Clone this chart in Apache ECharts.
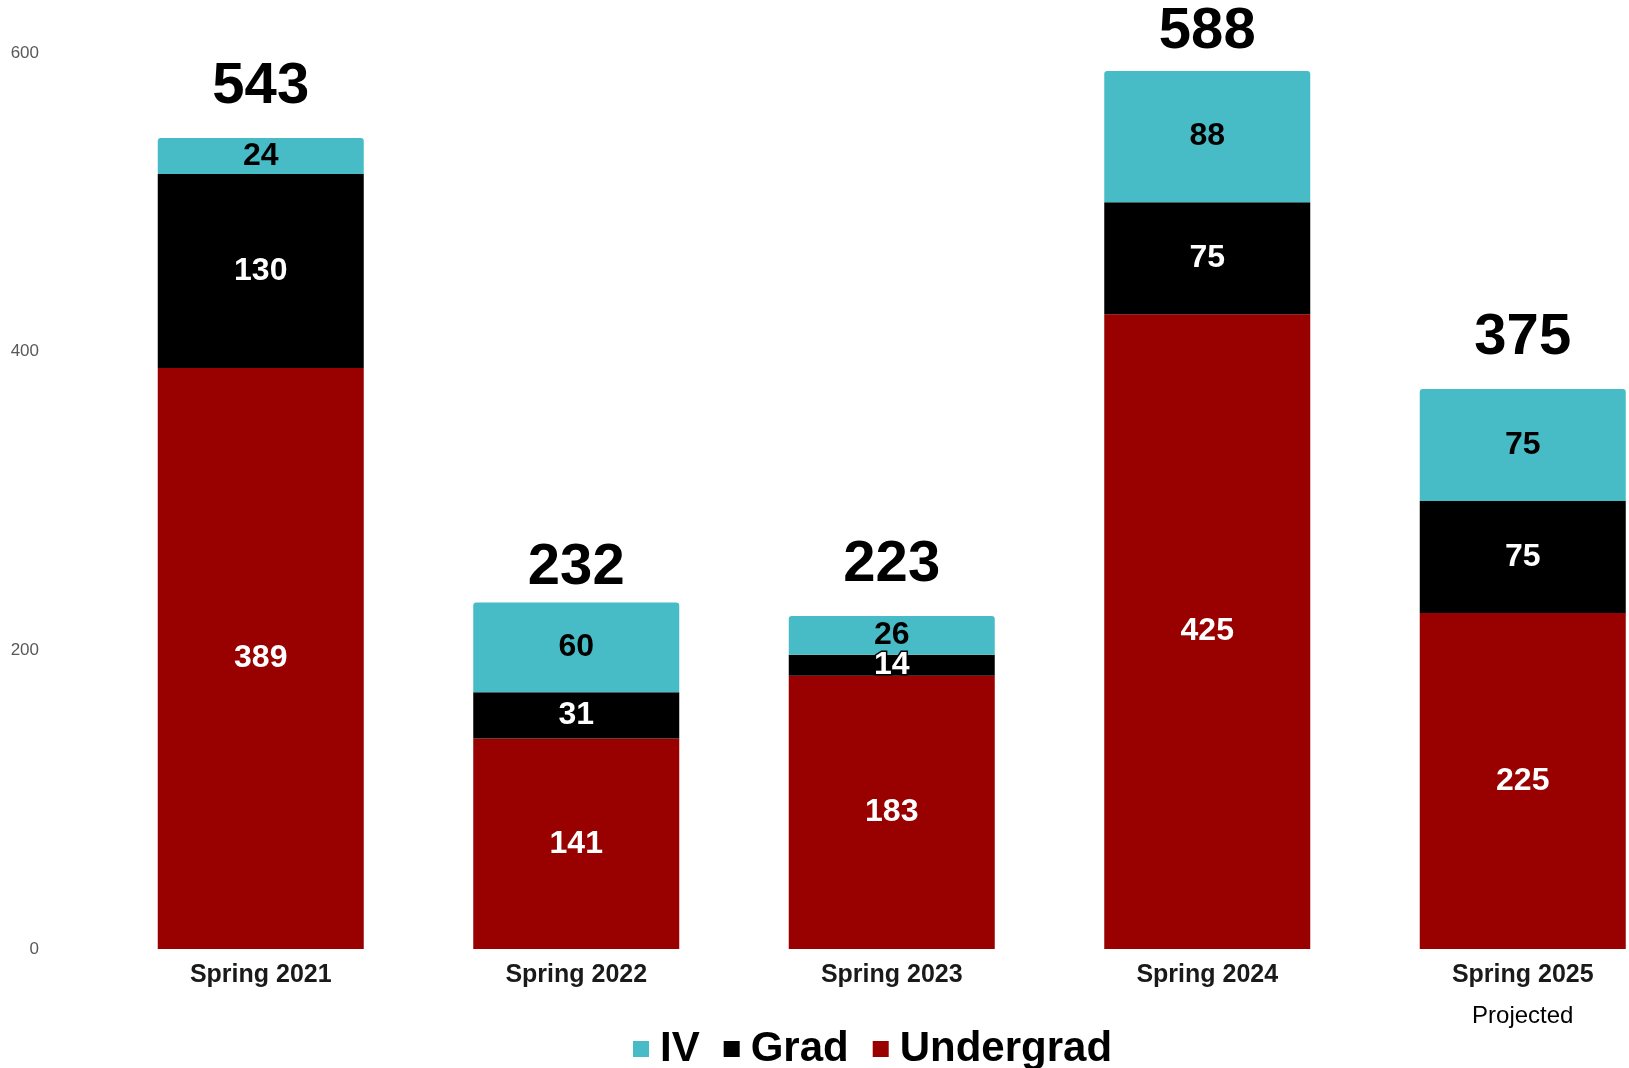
<!DOCTYPE html>
<html>
<head>
<meta charset="utf-8">
<script src="https://cdn.jsdelivr.net/npm/echarts@6/dist/echarts.min.js"></script>
<style>
html,body{margin:0;padding:0;background:#fff;}
#c{width:1629px;height:1068px;}
</style>
</head>
<body>
<div id="c"></div>
<script>
var categories = ['Spring 2021', 'Spring 2022', 'Spring 2023', 'Spring 2024', 'Spring 2025'];
var subLabels = ['', '', '', '', 'Projected'];
var undergrad = [389, 141, 183, 425, 225];
var grad = [130, 31, 14, 75, 75];
var iv = [24, 60, 26, 88, 75];
var yTicks = [0, 200, 400, 600];

var totals = categories.map(function (c, i) { return undergrad[i] + grad[i] + iv[i]; });

var FONT = '"Liberation Sans", Arial, Helvetica, sans-serif';
var chart = echarts.init(document.getElementById('c'), null, { renderer: 'canvas' });

// small per-column nudges of the total labels (style only)
var totalNudge = [0, 16, 0, 12, 0];

var inLabel = function (color, outline) {
  var l = {
    show: true, position: 'inside', color: color,
    fontFamily: FONT, fontWeight: 'bold', fontSize: 32
  };
  if (outline) { l.textBorderColor = '#000'; l.textBorderWidth = 3; }
  return l;
};

var option = {
  animation: false,
  backgroundColor: '#ffffff',
  textStyle: { fontFamily: FONT },
  grid: { left: 103, top: 53, width: 1577.5, height: 896, containLabel: false, outerBoundsMode: 'none' },
  legend: {
    data: ['IV', 'Grad', 'Undergrad'],
    left: 628, top: 1023,
    icon: 'rect', itemWidth: 16, itemHeight: 16, itemGap: 24,
    textStyle: { fontFamily: FONT, fontWeight: 'bold', fontSize: 42, color: '#000', padding: [0, 0, 0, 6] }
  },
  xAxis: {
    type: 'category', data: categories,
    axisLine: { show: false }, axisTick: { show: false },
    axisLabel: {
      margin: 12, interval: 0,
      formatter: function (v, i) {
        var s = '{a|' + v + '}';
        if (subLabels[i]) s += '\n{p|' + subLabels[i] + '}';
        return s;
      },
      rich: {
        a: { fontFamily: FONT, fontWeight: 'bold', fontSize: 25, color: '#1a1a1a', lineHeight: 28 },
        p: { fontFamily: FONT, fontSize: 24, color: '#000', lineHeight: 54 }
      }
    }
  },
  yAxis: {
    type: 'value', min: 0, max: 600, interval: 200,
    axisLine: { show: false }, axisTick: { show: false }, splitLine: { show: false },
    axisLabel: {
      margin: 64, color: '#595959', fontFamily: FONT, fontSize: 17,
      formatter: function (v) { return yTicks.indexOf(v) >= 0 ? String(v) : ''; }
    }
  },
  series: [
    { name: 'Undergrad', type: 'bar', stack: 't', barWidth: 206, data: undergrad,
      itemStyle: { color: '#990000' }, label: inLabel('#fff') },
    { name: 'Grad', type: 'bar', stack: 't', barWidth: 206,
      data: grad.map(function (v) { return { value: v, label: v < 20 ? inLabel('#fff', true) : inLabel('#fff') }; }),
      itemStyle: { color: '#000000' }, label: inLabel('#fff') },
    { name: 'IV', type: 'bar', stack: 't', barWidth: 206, data: iv,
      itemStyle: { color: '#47BCC6', borderRadius: [3, 3, 0, 0] }, label: inLabel('#000') },
    { name: 'Total', type: 'bar', stack: 't', barWidth: 206, silent: true,
      data: totals.map(function (t, i) {
        return { value: 0, label: { offset: [0, totalNudge[i]] } };
      }),
      itemStyle: { color: 'rgba(0,0,0,0)' },
      label: { show: true, position: 'top', distance: 22, color: '#000',
        fontFamily: FONT, fontWeight: 'bold', fontSize: 58,
        formatter: function (p) { return String(totals[p.dataIndex]); } } }
  ]
};
chart.setOption(option);
</script>
</body>
</html>
